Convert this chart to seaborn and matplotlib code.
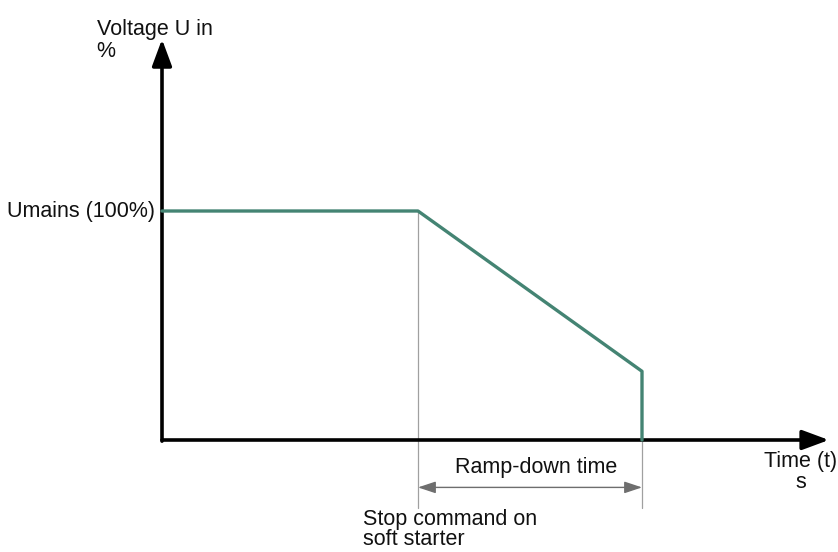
import matplotlib
matplotlib.use("Agg")
import matplotlib.pyplot as plt
import seaborn as sns
import pandas as pd

sns.set_theme(style="white")
plt.rcParams['font.family'] = ['Liberation Sans', 'DejaVu Sans']

# Data (arbitrary time units, voltage in %)
time_pts = [0.0, 4.0, 7.5, 7.5]
voltage_pts = [100.0, 100.0, 30.0, 0.0]
t_stop = 4.0
t_end = 7.5
u_mains = 100.0

y_label = "Voltage U in\n%"
x_label = "Time (t)\ns"
mains_label = "Umains (100%)"
ramp_label = "Ramp-down time"
stop_label = "Stop command on\nsoft starter"

df = pd.DataFrame({"t": time_pts, "U": voltage_pts})

XLIM = (-162 / 64, (838 - 162) / 64)
YLIM = ((440 - 552) / 229 * 100, 440 / 229 * 100)

fig = plt.figure(figsize=(8.38, 5.52), dpi=100)
ax = fig.add_axes([0, 0, 1, 1])

line_color = "#448473"
gray = "#a0a0a0"

# guide lines
ax.plot([t_stop, t_stop], [u_mains, -29.8], color=gray, lw=0.9, zorder=1)
ax.plot([t_end, t_end], [0, -29.5], color=gray, lw=0.9, zorder=1)

# axes with arrows
ax.annotate("", xy=(10.42, 0), xytext=(0, 0),
            arrowprops=dict(arrowstyle="-|>,head_length=1.35,head_width=0.5",
                            color="black", lw=2.6, shrinkA=0, shrinkB=0), zorder=3)
ax.annotate("", xy=(0, 175), xytext=(0, -0.5),
            arrowprops=dict(arrowstyle="-|>,head_length=1.35,head_width=0.5",
                            color="black", lw=2.6, shrinkA=0, shrinkB=0), zorder=3)

# voltage curve
sns.lineplot(data=df, x="t", y="U", sort=False, color=line_color, lw=2.4,
             ax=ax, zorder=4, estimator=None)
ax.set_xlim(*XLIM)
ax.set_ylim(*YLIM)
ax.axis("off")

# ramp-down double arrow
ax.annotate("", xy=(t_end, -20.7), xytext=(t_stop, -20.7),
            arrowprops=dict(arrowstyle="<|-|>,head_length=0.9,head_width=0.3",
                            color="#6e6e6e", lw=1.0, shrinkA=0, shrinkB=0))

fs = 15.5
tc = "#111111"
ax.text(-0.11, u_mains, mains_label, ha="right", va="center", fontsize=fs, color=tc)
ax.text(-1.02, 184, y_label, ha="left", va="top", fontsize=fs, color=tc, linespacing=1.08)
ax.text(5.85, -11.8, ramp_label, ha="center", va="center", fontsize=fs, color=tc)
ax.text(9.98, -5.0, x_label, ha="center", va="top", fontsize=fs, color=tc, linespacing=1.0)
ax.text(3.14, -30.2, stop_label, ha="left", va="top", fontsize=fs, color=tc, linespacing=0.95)

fig.savefig("out.png", dpi=100)
